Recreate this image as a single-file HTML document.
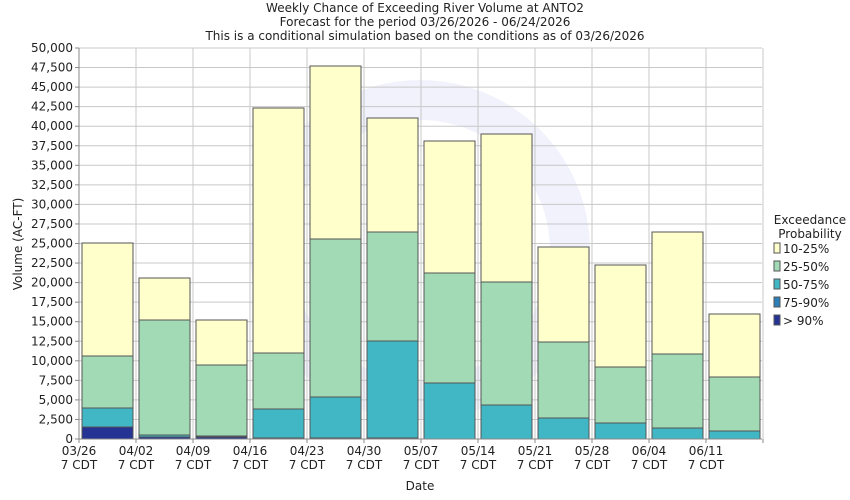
<!DOCTYPE html>
<html><head><meta charset="utf-8">
<style>
html,body{margin:0;padding:0;background:#fff;width:850px;height:500px;overflow:hidden}
svg{display:block;font-family:"DejaVu Sans","Liberation Sans",sans-serif}
</style></head><body>
<svg id="s" width="850" height="500" xmlns="http://www.w3.org/2000/svg">
<text x="425" y="12" font-size="12" text-anchor="middle" fill="#222">Weekly Chance of Exceeding River Volume at ANTO2</text>
<text x="425" y="26" font-size="12" text-anchor="middle" fill="#222">Forecast for the period 03/26/2026 - 06/24/2026</text>
<text x="425" y="40" font-size="12" text-anchor="middle" fill="#222">This is a conditional simulation based on the conditions as of 03/26/2026</text>
<g id="wm" opacity="0.1">
<circle cx="420" cy="250" r="170" fill="#7f86e8"/>
<circle cx="420" cy="250" r="130" fill="#fff"/>
</g>
<g id="grid"></g>
<g id="bars"></g>
<g id="axes"></g>
<text x="22" y="244" font-size="12" text-anchor="middle" transform="rotate(-90 22 244)" fill="#222">Volume (AC-FT)</text>
<text x="420" y="490" font-size="12" text-anchor="middle" fill="#222">Date</text>
<g font-size="12" fill="#222">
<text x="810" y="224" text-anchor="middle">Exceedance</text>
<text x="810" y="238" text-anchor="middle">Probability</text>
<rect x="774" y="243" width="6" height="10" fill="#ffffcc" stroke="#555"/><text x="783" y="253">10-25%</text>
<rect x="774" y="261" width="6" height="10" fill="#a1dab4" stroke="#555"/><text x="783" y="271">25-50%</text>
<rect x="774" y="279" width="6" height="10" fill="#41b6c4" stroke="#555"/><text x="783" y="289">50-75%</text>
<rect x="774" y="297" width="6" height="10" fill="#2c7fb8" stroke="#555"/><text x="783" y="307">75-90%</text>
<rect x="774" y="315" width="6" height="10" fill="#253494" stroke="#555"/><text x="783" y="325">&gt; 90%</text>
</g>
</svg>
<script>
const NS="http://www.w3.org/2000/svg";
function el(p,t,a,txt){const e=document.createElementNS(NS,t);for(const k in a)e.setAttribute(k,a[k]);if(txt!==undefined)e.textContent=txt;document.getElementById(p).appendChild(e);return e;}
const L=79,R=762,T=48,B=439,W=57;
for(let i=0;i<=20;i++){const y=B-(B-T)*i/20;
 el("grid","line",{x1:L,x2:R,y1:y,y2:y,stroke:"#c8c8c8"});
 el("axes","line",{x1:L-4,x2:L,y1:y,y2:y,stroke:"#888"});
 el("axes","text",{x:L-6,y:y+4,"font-size":12,"text-anchor":"end",fill:"#222"},(i*2500).toLocaleString("en-US"));}
const dates=["03/26","04/02","04/09","04/16","04/23","04/30","05/07","05/14","05/21","05/28","06/04","06/11"];
for(let i=0;i<=12;i++){const x=L+W*i;
 el("grid","line",{x1:x,x2:x,y1:T,y2:B,stroke:"#c8c8c8"});
 el("axes","line",{x1:x,x2:x,y1:B,y2:B+4,stroke:"#888"});
 if(i<12){el("axes","text",{x:x,y:B+16,"font-size":12,"text-anchor":"middle",fill:"#222"},dates[i]);
 el("axes","text",{x:x,y:B+30,"font-size":12,"text-anchor":"middle",fill:"#222"},"7 CDT");}}
el("axes","line",{x1:L,x2:L,y1:T,y2:B,stroke:"#888"});
el("axes","line",{x1:L,x2:R,y1:B,y2:B,stroke:"#888"});
const d=[[243,356,408,427,427],[278,320,435,437,437],[320,365,436,437,437],[108,353,409,438,438],[66,239,397,438,438],[118,232,341,438,438],[141,273,383,439,439],[134,282,405,439,439],[247,342,418,439,439],[265,367,423,439,439],[232,354,428,439,439],[314,377,431,439,439]];
const cols=["#ffffcc","#a1dab4","#41b6c4","#2c7fb8","#253494"];
d.forEach((b,i)=>{const x=L+W*i+3,w=W-6;
 for(let k=0;k<5;k++){const top=b[k],bot=(k<4?b[k+1]:B);if(bot-top<=0)continue;
  el("bars","rect",{x:x,y:top,width:w,height:bot-top,fill:cols[k],stroke:"#555","stroke-width":1});}});
</script>
</body></html>
